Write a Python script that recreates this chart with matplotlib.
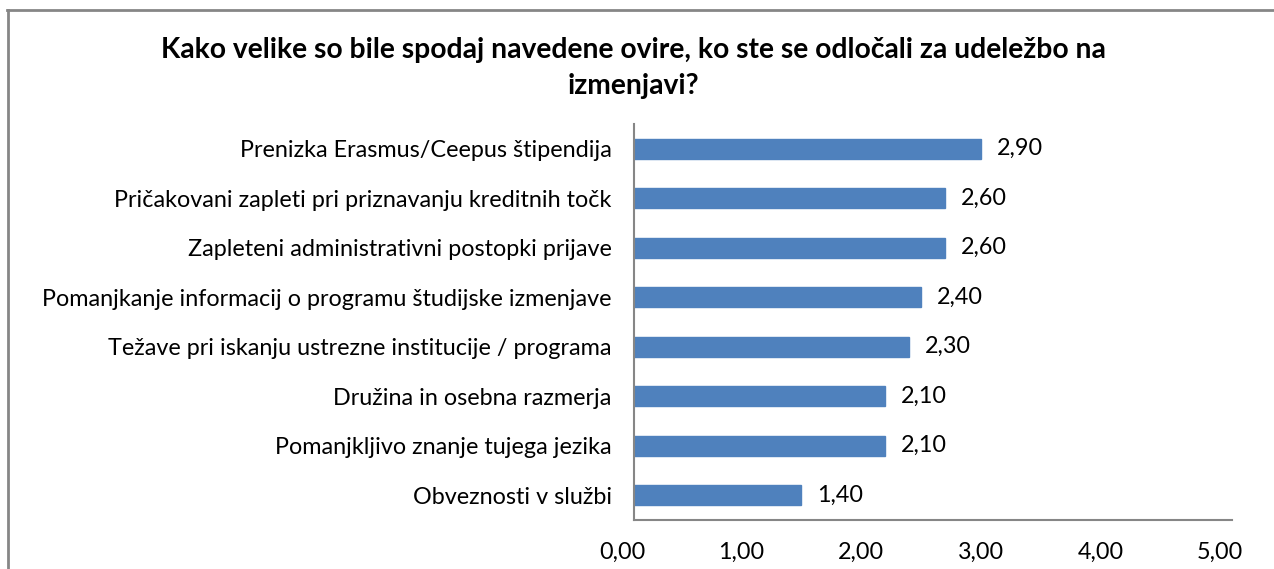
import matplotlib
matplotlib.use("Agg")
import matplotlib.pyplot as plt
from matplotlib.lines import Line2D
from matplotlib.transforms import ScaledTranslation

categories = [
    "Prenizka Erasmus/Ceepus štipendija",
    "Pričakovani zapleti pri priznavanju kreditnih točk",
    "Zapleteni administrativni postopki prijave",
    "Pomanjkanje informacij o programu študijske izmenjave",
    "Težave pri iskanju ustrezne institucije / programa",
    "Družina in osebna razmerja",
    "Pomanjkljivo znanje tujega jezika",
    "Obveznosti v službi",
]
values = [2.90, 2.60, 2.60, 2.40, 2.30, 2.10, 2.10, 1.40]
xticks = [0, 1, 2, 3, 4, 5]
title = "Kako velike so bile spodaj navedene ovire, ko ste se odločali za udeležbo na\nizmenjavi?"

plt.rcParams['font.family'] = ['Lato', 'DejaVu Sans']

fig = plt.figure(figsize=(12.74, 5.69), dpi=100)
ax = fig.add_axes([634/1274, 1 - 520/569, (1232 - 634)/1274, (520 - 124)/569])

ypos = list(range(len(categories)))
ax.barh(ypos, values, height=0.4, color="#4F81BD", edgecolor="#4F81BD")
ax.set_ylim(len(categories) - 0.5, -0.5)
ax.set_xlim(0, 5)
ax.set_yticks(ypos)
ax.set_yticklabels(categories, fontsize=16.8)
ax.set_xticks(xticks)
ax.set_xticklabels([f"{t:.2f}".replace(".", ",") for t in xticks], fontsize=16.8)
ax.tick_params(axis="y", length=0, pad=16)
ax.tick_params(axis="x", length=0, pad=16)
shift = ScaledTranslation(-12/100, 0, fig.dpi_scale_trans)
for lbl in ax.get_xticklabels():
    lbl.set_transform(lbl.get_transform() + shift)

for y, v in zip(ypos, values):
    ax.text(v + 0.13, y, f"{v:.2f}".replace(".", ","), va="center", ha="left", fontsize=16.8)

for s in ["top", "right"]:
    ax.spines[s].set_visible(False)
for s in ["left", "bottom"]:
    ax.spines[s].set_color("#868686")
    ax.spines[s].set_linewidth(1.5)

fig.text(633/1274, 1 - 68/569, title, ha="center", va="center", fontsize=20.3,
         fontweight="bold", linespacing=1.45)

# outer chart border (top and left visible)
fig.add_artist(Line2D([8/1274, 8/1274], [0, 1 - 10/569], transform=fig.transFigure,
                      color="#868686", linewidth=2))
fig.add_artist(Line2D([7/1274, 1], [1 - 10/569, 1 - 10/569], transform=fig.transFigure,
                      color="#868686", linewidth=2))

fig.savefig("out.png", dpi=100)
